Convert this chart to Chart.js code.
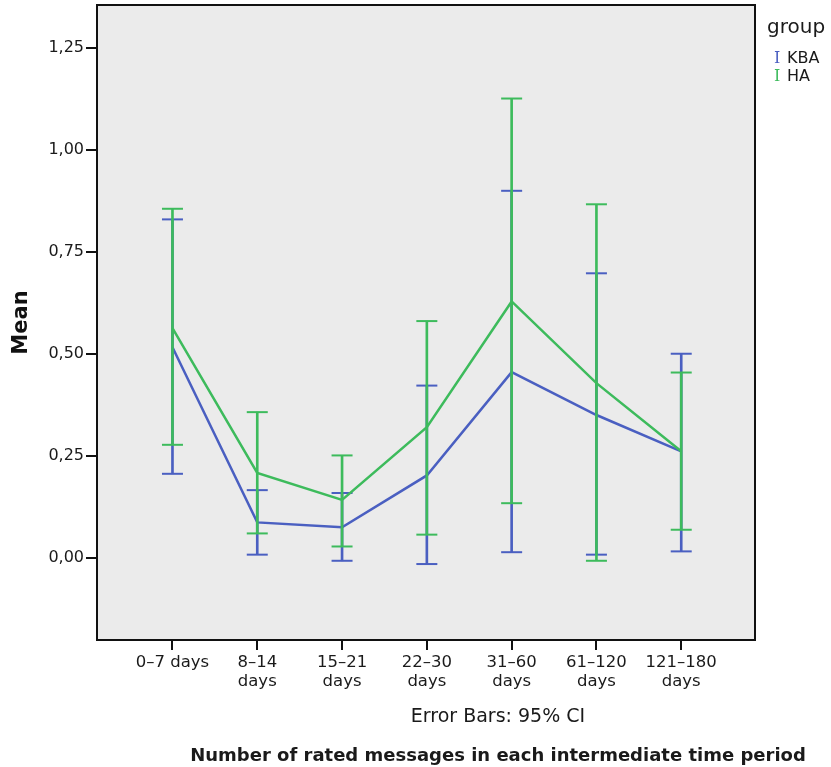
<!DOCTYPE html>
<html>
<head>
<meta charset="utf-8">
<script src="https://cdn.jsdelivr.net/npm/chart.js@4"></script>
<style>
  html, body { margin: 0; padding: 0; background: #fff; }
  #wrap { position: relative; width: 831px; height: 767px; }
  .txt { position: absolute; font-family: "DejaVu Sans", sans-serif; color: #1a1a1a; white-space: nowrap; }
  #note { left: 498px; top: 704px; transform: translateX(-50%); font-size: 19px; }
  #xtitle { left: 498px; top: 744px; transform: translateX(-50%); font-size: 18px; font-weight: bold; }
  #legend { left: 767px; top: 14px; }
  #legend .ttl { font-size: 20px; margin-bottom: 11px; }
  #legend .row { font-size: 16px; line-height: 18px; }
  #legend .row span { display: inline-block; width: 13px; margin-left: 7px; font-family: "DejaVu Serif", serif; }
</style>
</head>
<body>
<div id="wrap">
  <canvas id="c" width="831" height="767"></canvas>
  <div class="txt" id="note">Error Bars: 95% CI</div>
  <div class="txt" id="xtitle">Number of rated messages in each intermediate time period</div>
  <div class="txt" id="legend">
    <div class="ttl">group</div>
    <div class="row"><span style="color:#4a5fc1">I</span>KBA</div>
    <div class="row"><span style="color:#3dbb5c">I</span>HA</div>
  </div>
</div>
<script>
const categories = [["0–7 days"], ["8–14", "days"], ["15–21", "days"], ["22–30", "days"],
  ["31–60", "days"], ["61–120", "days"], ["121–180", "days"]];
const yTicks = [0, 0.25, 0.5, 0.75, 1.0, 1.25];

const kbaMean = [0.517, 0.088, 0.076, 0.203, 0.456, 0.351, 0.262];
const kbaLow  = [0.207, 0.009, -0.006, -0.014, 0.015, 0.009, 0.017];
const kbaHigh = [0.830, 0.167, 0.160, 0.423, 0.900, 0.698, 0.501];

const haMean = [0.564, 0.209, 0.143, 0.321, 0.629, 0.429, 0.262];
const haLow  = [0.278, 0.061, 0.029, 0.058, 0.135, -0.006, 0.070];
const haHigh = [0.856, 0.358, 0.252, 0.581, 1.126, 0.867, 0.455];

const blue = "#4a5fc1";
const green = "#3dbb5c";

function pts(arr) { return arr.map((v, i) => ({ x: i, y: v })); }
function ranges(lo, hi) { return lo.map((v, i) => ({ x: i, y: [v, hi[i]] })); }

function whisker(lo, hi, color, order) {
  return {
    type: "bar", data: ranges(lo, hi), backgroundColor: color,
    barThickness: 2, grouped: false, order: order
  };
}
function caps(vals, color, order) {
  return {
    type: "line", data: pts(vals), showLine: false, pointStyle: "line",
    pointRadius: 10.5, borderColor: color, borderWidth: 2, order: order
  };
}
function meanLine(vals, color, order) {
  return {
    type: "line", data: pts(vals), borderColor: color, borderWidth: 2.5,
    pointRadius: 0, tension: 0, order: order
  };
}

const plotBox = {
  id: "plotBox",
  beforeDraw(chart) {
    const a = chart.chartArea, ctx = chart.ctx;
    ctx.save();
    ctx.fillStyle = "#ebebeb";
    ctx.fillRect(a.left, a.top, a.right - a.left, a.bottom - a.top);
    ctx.restore();
  },
  afterDraw(chart) {
    const a = chart.chartArea, ctx = chart.ctx;
    ctx.save();
    ctx.strokeStyle = "#111";
    ctx.lineWidth = 2;
    ctx.strokeRect(a.left, a.top, a.right - a.left, a.bottom - a.top);
    ctx.restore();
  }
};

new Chart(document.getElementById("c"), {
  type: "line",
  data: {
    datasets: [
      whisker(kbaLow, kbaHigh, blue, 6),
      caps(kbaLow, blue, 5),
      caps(kbaHigh, blue, 5),
      meanLine(kbaMean, blue, 4),
      whisker(haLow, haHigh, green, 3),
      caps(haLow, green, 2),
      caps(haHigh, green, 2),
      meanLine(haMean, green, 1)
    ]
  },
  options: {
    responsive: false,
    animation: false,
    layout: { autoPadding: false, padding: { left: 0, top: 5, right: 76, bottom: 0 } },
    plugins: { legend: { display: false }, tooltip: { enabled: false } },
    scales: {
      x: {
        type: "linear", min: -0.89, max: 6.87, offset: false,
        afterFit: (s) => { s.height = 127; s.paddingLeft = 0; s.paddingRight = 0; },
        afterBuildTicks: (s) => { s.ticks = categories.map((c, i) => ({ value: i })); },
        grid: { offset: false, drawOnChartArea: false, drawTicks: true, tickLength: 10, color: "#111", lineWidth: 2 },
        border: { display: false },
        ticks: {
          autoSkip: false, maxRotation: 0, padding: 3, color: "#1a1a1a",
          font: { family: "DejaVu Sans", size: 16.5, lineHeight: 1.15 },
          callback: (v) => categories[v]
        }
      },
      y: {
        min: -0.2, max: 1.355,
        afterFit: (s) => { s.width = 97; s.paddingTop = 0; s.paddingBottom = 0; },
        afterBuildTicks: (s) => { s.ticks = yTicks.map((v) => ({ value: v })); },
        grid: { drawOnChartArea: false, drawTicks: true, tickLength: 11, color: "#111", lineWidth: 2 },
        border: { display: false },
        ticks: {
          padding: 2, color: "#1a1a1a",
          font: { family: "DejaVu Sans", size: 16 },
          callback: (v) => v.toFixed(2).replace(".", ",")
        },
        title: {
          display: true, text: "Mean", color: "#111", padding: { top: 9, bottom: 0 },
          font: { family: "DejaVu Sans", size: 21, weight: "bold" }
        }
      }
    }
  },
  plugins: [plotBox]
});
</script>
</body>
</html>
